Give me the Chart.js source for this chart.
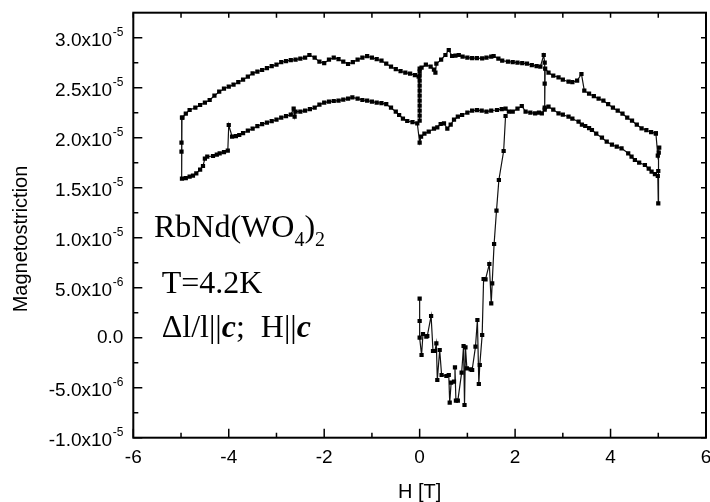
<!DOCTYPE html>
<html>
<head>
<meta charset="utf-8">
<script src="https://cdn.jsdelivr.net/npm/chart.js@4.4.0/dist/chart.umd.min.js"></script>
<style>
html, body { margin: 0; padding: 0; background: #fff; overflow: hidden; }
#wrap { width: 710px; height: 502px; position: relative; }
</style>
</head>
<body>
<div id="wrap"><canvas id="myChart"></canvas></div>
<script>
// magnetostriction values are in units of 1e-5
var upperH = [-4.97,-4.9,-4.82,-4.7,-4.6,-4.5,-4.4,-4.3,-4.2,-4.1,
    -4.0,-3.9,-3.8,-3.7,-3.6,-3.5,-3.4,-3.3,-3.2,-3.1,
    -3.0,-2.9,-2.8,-2.7,-2.6,-2.5,-2.4,-2.31,-2.2,-2.1,
    -2.0,-1.9,-1.8,-1.7,-1.6,-1.5,-1.4,-1.3,-1.2,-1.1,
    -1.0,-0.9,-0.8,-0.7,-0.6,-0.5,-0.4,-0.3,-0.2,-0.1,
    -0.02,0,0,0,0,0,0,0,0,0,0,0,0,0.04,0.13,0.23,0.30,0.33,
    0.35,0.45,0.54,0.61,0.68,0.75,0.82,0.9,1.0,1.1,
    1.2,1.31,1.4,1.5,1.55,1.65,1.73,1.85,1.95,2.05,
    2.15,2.25,2.35,2.45,2.53,2.60,2.62,2.62,2.62,2.63,
    2.70,2.8,2.91,3.0,3.12,3.2,3.3,3.39,3.45,3.55,
    3.65,3.75,3.85,3.95,4.05,4.15,4.25,4.35,4.45,4.55,
    4.65,4.75,4.85,4.95];
var upperM = [2.20,2.24,2.277,2.30,2.327,2.35,2.377,2.42,2.46,2.49,
    2.51,2.53,2.555,2.58,2.61,2.644,2.66,2.677,2.695,2.715,
    2.73,2.755,2.765,2.775,2.78,2.79,2.80,2.827,2.80,2.76,
    2.745,2.78,2.80,2.785,2.76,2.737,2.755,2.78,2.80,2.815,
    2.80,2.785,2.77,2.74,2.71,2.685,2.665,2.65,2.64,2.625,
    2.61,2.17,2.22,2.27,2.32,2.37,2.42,2.47,2.52,2.57,2.62,2.66,2.69,2.70,2.73,2.71,2.68,2.65,
    2.74,2.78,2.827,2.877,2.817,2.82,2.827,2.81,2.80,2.795,
    2.795,2.794,2.80,2.81,2.817,2.79,2.77,2.76,2.755,2.75,
    2.745,2.74,2.725,2.715,2.71,2.827,2.75,2.54,2.30,2.69,
    2.65,2.62,2.604,2.58,2.56,2.555,2.57,2.637,2.47,2.44,
    2.415,2.39,2.37,2.335,2.30,2.27,2.24,2.20,2.17,2.13,
    2.094,2.075,2.055,2.044];

var lowerH = [-4.98,-4.99,-4.99,-4.98,-4.9,-4.82,-4.75,-4.68,-4.6,-4.54,
    -4.5,-4.45,-4.33,-4.25,-4.19,-4.1,-4.02,-4.0,-3.93,-3.85,
    -3.78,-3.7,-3.6,-3.5,-3.4,-3.3,-3.2,-3.1,-3.0,-2.9,
    -2.8,-2.7,-2.64,-2.62,-2.6,-2.5,-2.4,-2.3,-2.2,-2.1,
    -2.0,-1.9,-1.8,-1.7,-1.6,-1.5,-1.41,-1.3,-1.2,-1.1,
    -1.0,-0.9,-0.8,-0.7,-0.6,-0.5,-0.43,-0.35,-0.26,-0.15,
    -0.05,0.0,0.03,0.1,0.19,0.3,0.37,0.44,0.51,0.58,
    0.65,0.72,0.8,0.89,1.0,1.1,1.2,1.3,1.4,1.5,
    1.62,1.72,1.8,1.87,1.95,2.05,2.14,2.22,2.32,2.42,
    2.5,2.56,2.62,2.70,2.8,2.91,3.0,3.12,3.2,3.33,
    3.4,3.47,3.55,3.61,3.7,3.82,3.92,4.03,4.13,4.23,
    4.37,4.44,4.51,4.6,4.72,4.8,4.86,4.93,4.99,5.0,
    5.0,5.01,5.02,4.99,4.95];
var lowerM = [2.20,1.95,1.86,1.59,1.595,1.61,1.62,1.644,1.68,1.717,
    1.79,1.81,1.817,1.83,1.844,1.855,1.87,2.127,2.01,2.015,
    2.027,2.045,2.07,2.09,2.115,2.135,2.15,2.165,2.18,2.20,
    2.215,2.23,2.29,2.21,2.26,2.26,2.27,2.285,2.30,2.33,
    2.35,2.36,2.367,2.37,2.38,2.39,2.404,2.39,2.377,2.37,
    2.36,2.35,2.345,2.335,2.30,2.26,2.227,2.19,2.167,2.155,
    2.144,1.95,2.01,2.04,2.06,2.09,2.104,2.137,2.144,2.09,
    2.13,2.18,2.21,2.227,2.25,2.27,2.275,2.27,2.26,2.27,
    2.277,2.285,2.29,2.26,2.26,2.29,2.317,2.26,2.25,2.244,
    2.25,2.244,2.28,2.31,2.28,2.244,2.23,2.21,2.19,2.16,
    2.13,2.117,2.095,2.077,2.04,2.0,1.96,1.93,1.91,1.894,
    1.844,1.81,1.777,1.75,1.727,1.69,1.66,1.635,1.617,1.344,
    1.667,1.85,1.90,1.82,2.044];

var virginH = [0.00,0.00,0.00,0.04,0.07,0.14,0.16,0.24,0.28,0.32,
    0.35,0.37,0.42,0.46,0.56,0.61,0.63,0.66,0.72,0.74,
    0.76,0.80,0.88,0.92,0.94,0.96,0.99,1.07,1.10,1.17,
    1.21,1.24,1.26,1.31,1.34,1.38,1.46,1.50,1.52,1.56,
    1.61,1.66,1.76,1.80];
var virginM = [0.39,0.167,0.0,-0.173,0.037,0.01,0.017,0.217,-0.133,-0.133,
    -0.057,-0.423,-0.123,-0.373,-0.383,-0.373,-0.65,-0.45,-0.44,-0.297,
    -0.63,-0.63,-0.35,-0.083,-0.673,-0.097,-0.307,-0.317,-0.323,-0.09,
    0.177,-0.463,-0.273,0.027,0.587,0.584,0.737,0.344,0.544,0.937,
    1.27,1.577,1.867,2.217];

var xTickValues = [-6, -4, -2, 0, 2, 4, 6];
var xTickLabels = ['-6', '-4', '-2', '0', '2', '4', '6'];
var xMinorTicks = [-5, -3, -1, 1, 3, 5];
var yTickValues = [-1.0, -0.5, 0, 0.5, 1.0, 1.5, 2.0, 2.5, 3.0];
var yTickText = ['-1.0x10', '-5.0x10', '0.0', '5.0x10', '1.0x10', '1.5x10', '2.0x10', '2.5x10', '3.0x10'];
var yTickExp = ['-5', '-6', '', '-6', '-5', '-5', '-5', '-5', '-5'];
var yMinorTicks = [-0.75, -0.25, 0.25, 0.75, 1.25, 1.75, 2.25, 2.75];

var xTitle = 'H [T]';
var yTitle = 'Magnetostriction';

var sansFont = "'Liberation Sans', Arial, sans-serif";
var serifFont = "'Liberation Serif', 'Times New Roman', serif";

function toPoints(hs, ms) {
    var pts = [];
    for (var i = 0; i < hs.length; i++) {
        pts.push({x: hs[i], y: ms[i]});
    }
    return pts;
}

// draws a row of text pieces: [text, size, baseline shift, style]
function drawRuns(ctx, x, y, runs) {
    runs.forEach(function (r) {
        ctx.font = r[3] + r[1] + 'px ' + serifFont;
        ctx.fillText(r[0], x, y + r[2]);
        x += ctx.measureText(r[0]).width;
    });
}

var framePlugin = {
    id: 'frameAndText',
    afterDraw: function (chart) {
        var ctx = chart.ctx, a = chart.chartArea;
        var x = chart.scales.x, y = chart.scales.y;
        ctx.save();
        ctx.strokeStyle = '#000';
        ctx.lineWidth = 2;
        ctx.strokeRect(a.left, a.top, a.right - a.left, a.bottom - a.top);

        ctx.lineWidth = 1.5;
        ctx.beginPath();
        xTickValues.forEach(function (v) {
            var px = x.getPixelForValue(v);
            ctx.moveTo(px, a.bottom); ctx.lineTo(px, a.bottom - 9);
            ctx.moveTo(px, a.top); ctx.lineTo(px, a.top + 5);
        });
        xMinorTicks.forEach(function (v) {
            var px = x.getPixelForValue(v);
            ctx.moveTo(px, a.bottom); ctx.lineTo(px, a.bottom - 5);
            ctx.moveTo(px, a.top); ctx.lineTo(px, a.top + 5);
        });
        yTickValues.forEach(function (v) {
            var py = y.getPixelForValue(v);
            ctx.moveTo(a.left, py); ctx.lineTo(a.left + 9, py);
            ctx.moveTo(a.right, py); ctx.lineTo(a.right - 5, py);
        });
        yMinorTicks.forEach(function (v) {
            var py = y.getPixelForValue(v);
            ctx.moveTo(a.left, py); ctx.lineTo(a.left + 5, py);
            ctx.moveTo(a.right, py); ctx.lineTo(a.right - 5, py);
        });
        ctx.stroke();

        ctx.fillStyle = '#000';
        ctx.textBaseline = 'alphabetic';

        // x tick labels
        ctx.font = '19px ' + sansFont;
        ctx.textAlign = 'center';
        xTickValues.forEach(function (v, i) {
            ctx.fillText(xTickLabels[i], x.getPixelForValue(v), a.bottom + 25.5);
        });

        // y tick labels with exponent
        ctx.textAlign = 'right';
        yTickValues.forEach(function (v, i) {
            var py = y.getPixelForValue(v);
            var rightEdge = a.left - 10;
            if (yTickExp[i]) {
                ctx.font = '12px ' + sansFont;
                var w = ctx.measureText(yTickExp[i]).width;
                ctx.fillText(yTickExp[i], rightEdge, py - 1.5);
                ctx.font = '19px ' + sansFont;
                ctx.fillText(yTickText[i], rightEdge - w - 0.5, py + 8);
            } else {
                ctx.font = '19px ' + sansFont;
                ctx.fillText(yTickText[i], rightEdge, py + 5);
            }
        });

        // y axis title
        ctx.save();
        ctx.translate(27.3, 239);
        ctx.rotate(-Math.PI / 2);
        ctx.textAlign = 'center';
        ctx.font = '20px ' + sansFont;
        ctx.fillText(yTitle, 0, 0);
        ctx.restore();

        // annotation
        ctx.textAlign = 'left';
        drawRuns(ctx, 154, 237, [
            ['RbNd(WO', 32, 0, ''],
            ['4', 20, 9, ''],
            [')', 32, 0, ''],
            ['2', 20, 9, '']
        ]);
        drawRuns(ctx, 161.7, 293, [['T=4.2K', 32, 0, '']]);
        drawRuns(ctx, 161.7, 336.7, [
            ['\u0394l/l||', 32, 0, ''],
            ['c', 32, 0, 'italic bold '],
            [';  H||', 32, 0, ''],
            ['c', 32, 0, 'italic bold ']
        ]);
        ctx.restore();
    }
};

function lineSet(pts) {
    return {
        data: pts,
        borderColor: '#111',
        borderWidth: 1.2,
        pointStyle: 'rect',
        pointRadius: 3,
        pointBackgroundColor: '#000',
        pointBorderColor: '#000',
        pointBorderWidth: 0,
        tension: 0,
        fill: false
    };
}

var ctx = document.getElementById('myChart');
var myChart = new Chart(ctx, {
    type: 'line',
    data: {
        datasets: [
            lineSet(toPoints(lowerH, lowerM)),
            lineSet(toPoints(upperH, upperM)),
            lineSet(toPoints(virginH, virginM))
        ]
    },
    options: {
        responsive: true,
        maintainAspectRatio: false,
        animation: false,
        layout: {padding: {left: 0, top: 12.7, right: 2.3, bottom: 0}},
        plugins: {legend: {display: false}, tooltip: {enabled: false}},
        scales: {
            x: {
                type: 'linear', min: -6, max: 6,
                grid: {display: false}, border: {display: false},
                ticks: {display: false},
                title: {display: true, text: xTitle, color: '#000', padding: 0,
                    font: {family: sansFont, size: 20, lineHeight: 1}},
                afterFit: function (s) { s.height = 64.3; }
            },
            y: {
                type: 'linear', min: -1.0, max: 3.25,
                grid: {display: false}, border: {display: false},
                ticks: {display: false},
                afterFit: function (s) { s.width = 133.3; }
            }
        }
    },
    plugins: [framePlugin]
});
</script>
</body>
</html>
